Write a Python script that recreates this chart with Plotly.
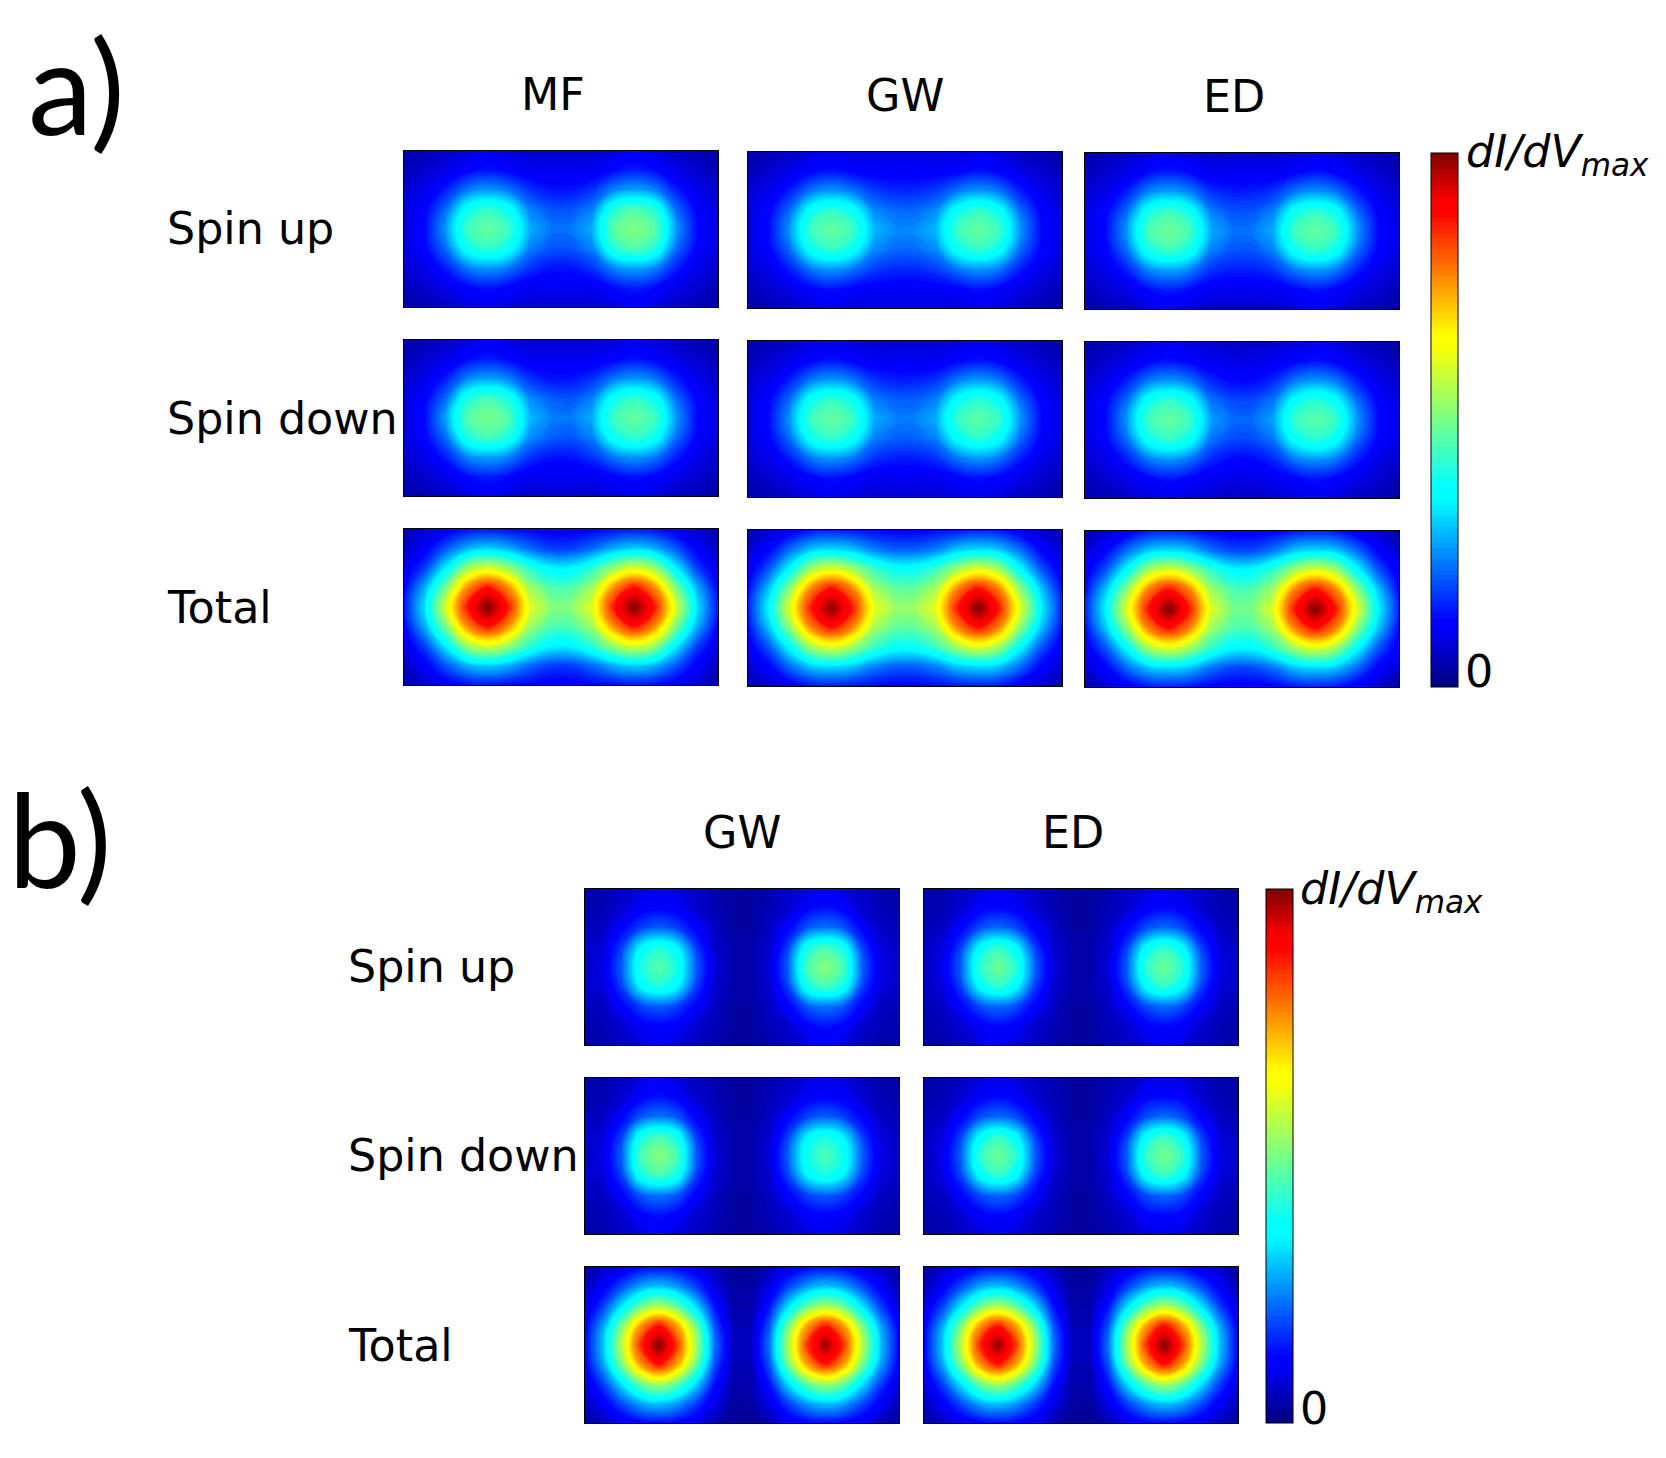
import plotly.graph_objects as go

# page has an 8px body margin, so the figure is a bit smaller than the window
OFFSET = 8
W = 1666 - 2 * OFFSET
H = 1458 - 2 * OFFSET

jet = [[0, '#00007f'], [0.11, '#0000ff'], [0.125, '#0000ff'], [0.35, '#00ffff'], [0.375, '#00ffff'],
       [0.64, '#ffff00'], [0.66, '#ffff00'], [0.89, '#ff0000'], [0.91, '#ff0000'], [1, '#7f0000']]

# dI/dV values, in percent of the maximum (top row first)
mf_up = [
    [4, 5, 6, 8, 9, 8, 7, 7, 7, 7, 8, 10, 8, 6, 5, 4],
    [5, 7, 9, 12, 14, 12, 10, 10, 10, 10, 13, 15, 13, 9, 7, 5],
    [7, 9, 15, 23, 26, 23, 17, 14, 14, 17, 24, 27, 24, 15, 9, 7],
    [8, 12, 22, 38, 43, 38, 24, 20, 20, 24, 41, 46, 41, 22, 12, 8],
    [8, 13, 26, 44, 48, 44, 28, 23, 23, 28, 47, 51, 47, 26, 13, 8],
    [8, 12, 22, 38, 43, 38, 24, 20, 20, 24, 41, 46, 41, 22, 12, 8],
    [7, 9, 15, 23, 26, 23, 17, 14, 14, 17, 24, 27, 24, 15, 9, 7],
    [5, 7, 9, 12, 14, 12, 10, 10, 10, 10, 13, 15, 13, 9, 7, 5],
    [4, 5, 6, 8, 9, 8, 7, 7, 7, 7, 8, 10, 8, 6, 5, 4],
]
mf_down = [
    [4, 5, 6, 8, 10, 8, 7, 7, 7, 7, 8, 9, 8, 6, 5, 4],
    [5, 7, 9, 13, 15, 13, 10, 10, 10, 10, 12, 14, 12, 9, 7, 5],
    [7, 9, 15, 24, 27, 24, 17, 14, 14, 17, 23, 26, 23, 15, 9, 7],
    [8, 12, 22, 40, 45, 40, 25, 21, 20, 24, 38, 43, 38, 22, 12, 8],
    [8, 13, 27, 46, 50, 46, 29, 24, 23, 28, 44, 48, 44, 26, 13, 8],
    [8, 12, 22, 40, 45, 40, 25, 21, 20, 24, 38, 43, 38, 22, 12, 8],
    [7, 9, 15, 24, 27, 24, 17, 14, 14, 17, 23, 26, 23, 15, 9, 7],
    [5, 7, 9, 13, 15, 13, 10, 10, 10, 10, 12, 14, 12, 9, 7, 5],
    [4, 5, 6, 8, 10, 8, 7, 7, 7, 7, 8, 9, 8, 6, 5, 4],
]
mf_total = [
    [4, 7, 10, 13, 14, 13, 12, 11, 11, 12, 13, 14, 13, 10, 7, 4],
    [6, 11, 20, 28, 31, 28, 22, 18, 18, 22, 28, 31, 28, 20, 11, 6],
    [9, 18, 34, 53, 60, 53, 42, 35, 35, 42, 53, 60, 53, 34, 18, 9],
    [12, 28, 50, 76, 88, 76, 54, 46, 46, 54, 76, 88, 76, 50, 28, 12],
    [14, 33, 60, 87, 100, 87, 61, 52, 52, 61, 87, 100, 87, 60, 33, 14],
    [12, 28, 50, 76, 88, 76, 54, 46, 46, 54, 76, 88, 76, 50, 28, 12],
    [9, 18, 34, 53, 60, 53, 42, 35, 35, 42, 53, 60, 53, 34, 18, 9],
    [6, 11, 20, 28, 31, 28, 22, 18, 18, 22, 28, 31, 28, 20, 11, 6],
    [4, 7, 10, 13, 14, 13, 12, 11, 11, 12, 13, 14, 13, 10, 7, 4],
]
gw_up_a = [
    [4, 5, 6, 8, 9, 8, 8, 8, 8, 8, 8, 9, 8, 6, 5, 4],
    [5, 7, 9, 12, 14, 12, 11, 11, 11, 11, 12, 14, 12, 9, 7, 5],
    [7, 9, 15, 23, 26, 23, 18, 16, 16, 18, 23, 26, 23, 15, 9, 7],
    [8, 12, 22, 38, 43, 38, 25, 22, 22, 25, 38, 43, 38, 22, 12, 8],
    [8, 13, 26, 44, 48, 44, 29, 25, 25, 29, 44, 48, 44, 26, 13, 8],
    [8, 12, 22, 38, 43, 38, 25, 22, 22, 25, 38, 43, 38, 22, 12, 8],
    [7, 9, 15, 23, 26, 23, 18, 16, 16, 18, 23, 26, 23, 15, 9, 7],
    [5, 7, 9, 12, 14, 12, 11, 11, 11, 11, 12, 14, 12, 9, 7, 5],
    [4, 5, 6, 8, 9, 8, 8, 8, 8, 8, 8, 9, 8, 6, 5, 4],
]
gw_down_a = [
    [4, 5, 6, 8, 9, 8, 7, 7, 7, 7, 8, 9, 8, 6, 5, 4],
    [5, 7, 9, 12, 14, 12, 10, 10, 10, 10, 12, 14, 12, 9, 7, 5],
    [7, 9, 15, 23, 26, 23, 17, 15, 15, 17, 23, 26, 23, 15, 9, 7],
    [8, 12, 22, 38, 43, 38, 24, 21, 21, 24, 37, 42, 37, 22, 12, 8],
    [8, 13, 26, 44, 48, 44, 28, 24, 24, 28, 43, 47, 43, 26, 13, 8],
    [8, 12, 22, 38, 43, 38, 24, 21, 21, 24, 37, 42, 37, 22, 12, 8],
    [7, 9, 15, 23, 26, 23, 17, 15, 15, 17, 23, 26, 23, 15, 9, 7],
    [5, 7, 9, 12, 14, 12, 10, 10, 10, 10, 12, 14, 12, 9, 7, 5],
    [4, 5, 6, 8, 9, 8, 7, 7, 7, 7, 8, 9, 8, 6, 5, 4],
]
gw_total_a = [
    [4, 7, 10, 14, 15, 14, 13, 12, 12, 13, 14, 15, 14, 10, 7, 4],
    [7, 12, 22, 30, 32, 30, 24, 21, 21, 24, 30, 32, 30, 22, 12, 7],
    [10, 20, 36, 54, 61, 54, 44, 38, 38, 44, 54, 61, 54, 36, 20, 10],
    [13, 30, 52, 77, 88, 77, 55, 48, 48, 55, 77, 88, 77, 52, 30, 13],
    [15, 35, 61, 87, 99, 87, 62, 54, 54, 62, 87, 100, 87, 61, 35, 15],
    [13, 30, 52, 77, 88, 77, 55, 48, 48, 55, 77, 88, 77, 52, 30, 13],
    [10, 20, 36, 54, 61, 54, 44, 38, 38, 44, 54, 61, 54, 36, 20, 10],
    [7, 12, 22, 30, 32, 30, 24, 21, 21, 24, 30, 32, 30, 22, 12, 7],
    [4, 7, 10, 14, 15, 14, 13, 12, 12, 13, 14, 15, 14, 10, 7, 4],
]
ed_up_a = [
    [4, 5, 6, 8, 9, 8, 7, 7, 7, 7, 8, 9, 8, 6, 5, 4],
    [5, 7, 9, 13, 15, 13, 10, 10, 10, 10, 12, 14, 12, 9, 7, 5],
    [7, 9, 15, 24, 27, 24, 17, 15, 15, 17, 23, 26, 23, 15, 9, 7],
    [8, 12, 22, 39, 44, 39, 24, 20, 20, 24, 38, 43, 38, 22, 12, 8],
    [8, 13, 26, 45, 49, 45, 28, 23, 23, 28, 44, 48, 44, 26, 13, 8],
    [8, 12, 22, 39, 44, 39, 24, 20, 20, 24, 38, 43, 38, 22, 12, 8],
    [7, 9, 15, 24, 27, 24, 17, 15, 15, 17, 23, 26, 23, 15, 9, 7],
    [5, 7, 9, 13, 15, 13, 10, 10, 10, 10, 12, 14, 12, 9, 7, 5],
    [4, 5, 6, 8, 9, 8, 7, 7, 7, 7, 8, 9, 8, 6, 5, 4],
]
ed_down_a = [
    [4, 5, 6, 8, 9, 8, 7, 6, 6, 7, 8, 9, 8, 6, 5, 4],
    [5, 7, 9, 12, 14, 12, 10, 9, 9, 10, 12, 14, 12, 9, 7, 5],
    [7, 9, 15, 23, 26, 23, 16, 13, 13, 16, 23, 26, 23, 15, 9, 7],
    [8, 12, 22, 38, 43, 38, 23, 19, 19, 23, 37, 42, 37, 22, 12, 8],
    [8, 13, 26, 44, 48, 44, 27, 22, 22, 27, 43, 47, 43, 26, 13, 8],
    [8, 12, 22, 38, 43, 38, 23, 19, 19, 23, 37, 42, 37, 22, 12, 8],
    [7, 9, 15, 23, 26, 23, 16, 13, 13, 16, 23, 26, 23, 15, 9, 7],
    [5, 7, 9, 12, 14, 12, 10, 9, 9, 10, 12, 14, 12, 9, 7, 5],
    [4, 5, 6, 8, 9, 8, 7, 6, 6, 7, 8, 9, 8, 6, 5, 4],
]
ed_total_a = [
    [4, 7, 10, 14, 15, 14, 12, 11, 11, 12, 14, 15, 14, 10, 7, 4],
    [7, 12, 22, 30, 32, 30, 23, 19, 19, 23, 30, 32, 30, 22, 12, 7],
    [10, 20, 36, 54, 61, 54, 43, 36, 36, 43, 54, 61, 54, 36, 20, 10],
    [13, 30, 52, 77, 88, 77, 54, 46, 46, 54, 77, 88, 77, 52, 30, 13],
    [15, 35, 61, 87, 100, 87, 61, 50, 50, 61, 87, 100, 87, 61, 35, 15],
    [13, 30, 52, 77, 88, 77, 54, 46, 46, 54, 77, 88, 77, 52, 30, 13],
    [10, 20, 36, 54, 61, 54, 43, 36, 36, 43, 54, 61, 54, 36, 20, 10],
    [7, 12, 22, 30, 32, 30, 23, 19, 19, 23, 30, 32, 30, 22, 12, 7],
    [4, 7, 10, 14, 15, 14, 12, 11, 11, 12, 14, 15, 14, 10, 7, 4],
]
gw_up_b = [
    [3, 4, 6, 8, 9, 8, 6, 4, 2, 2, 4, 6, 8, 10, 8, 6, 4, 3],
    [4, 5, 7, 11, 12, 11, 7, 5, 3, 3, 5, 7, 12, 14, 12, 7, 5, 4],
    [5, 6, 12, 18, 21, 18, 12, 6, 3, 3, 6, 12, 20, 23, 20, 12, 6, 5],
    [6, 8, 18, 35, 41, 35, 18, 7, 4, 4, 7, 18, 39, 45, 39, 18, 8, 6],
    [6, 9, 21, 40, 47, 40, 21, 8, 4, 4, 8, 21, 45, 52, 45, 21, 9, 6],
    [6, 8, 18, 35, 41, 35, 18, 7, 4, 4, 7, 18, 39, 45, 39, 18, 8, 6],
    [5, 6, 12, 18, 21, 18, 12, 6, 3, 3, 6, 12, 20, 23, 20, 12, 6, 5],
    [4, 5, 7, 11, 12, 11, 7, 5, 3, 3, 5, 7, 12, 14, 12, 7, 5, 4],
    [3, 4, 6, 8, 9, 8, 6, 4, 2, 2, 4, 6, 8, 10, 8, 6, 4, 3],
]
gw_down_b = [
    [3, 4, 6, 8, 10, 8, 6, 4, 2, 2, 4, 6, 8, 9, 8, 6, 4, 3],
    [4, 5, 7, 12, 14, 12, 7, 5, 3, 3, 5, 7, 11, 12, 11, 7, 5, 4],
    [5, 6, 12, 20, 23, 20, 12, 6, 3, 3, 6, 12, 18, 21, 18, 12, 6, 5],
    [6, 8, 18, 39, 45, 39, 18, 7, 4, 4, 7, 18, 34, 40, 34, 18, 8, 6],
    [6, 9, 21, 45, 52, 45, 21, 8, 4, 4, 8, 21, 39, 46, 39, 21, 9, 6],
    [6, 8, 18, 39, 45, 39, 18, 7, 4, 4, 7, 18, 34, 40, 34, 18, 8, 6],
    [5, 6, 12, 20, 23, 20, 12, 6, 3, 3, 6, 12, 18, 21, 18, 12, 6, 5],
    [4, 5, 7, 12, 14, 12, 7, 5, 3, 3, 5, 7, 11, 12, 11, 7, 5, 4],
    [3, 4, 6, 8, 10, 8, 6, 4, 2, 2, 4, 6, 8, 9, 8, 6, 4, 3],
]
gw_total_b = [
    [3, 6, 9, 12, 13, 12, 9, 5, 2, 2, 5, 9, 12, 13, 12, 9, 6, 3],
    [5, 11, 19, 27, 30, 26, 18, 9, 3, 3, 9, 18, 26, 30, 27, 19, 11, 5],
    [8, 18, 33, 48, 55, 47, 32, 14, 4, 4, 14, 32, 47, 54, 48, 33, 18, 8],
    [11, 27, 50, 75, 88, 74, 49, 20, 5, 5, 20, 49, 74, 87, 75, 50, 27, 11],
    [12, 30, 57, 85, 100, 84, 55, 23, 6, 6, 23, 55, 84, 98, 85, 57, 30, 12],
    [11, 27, 50, 75, 88, 74, 49, 20, 5, 5, 20, 49, 74, 87, 75, 50, 27, 11],
    [8, 18, 33, 48, 55, 47, 32, 14, 4, 4, 14, 32, 47, 54, 48, 33, 18, 8],
    [5, 11, 19, 27, 30, 26, 18, 9, 3, 3, 9, 18, 26, 30, 27, 19, 11, 5],
    [3, 6, 9, 12, 13, 12, 9, 5, 2, 2, 5, 9, 12, 13, 12, 9, 6, 3],
]
ed_up_b = [
    [3, 4, 6, 8, 9, 8, 6, 4, 2, 2, 4, 6, 8, 9, 8, 6, 4, 3],
    [4, 5, 7, 11, 13, 11, 7, 5, 3, 3, 5, 7, 11, 13, 11, 7, 5, 4],
    [5, 6, 12, 19, 22, 19, 12, 6, 3, 3, 6, 12, 19, 22, 19, 12, 6, 5],
    [6, 8, 18, 36, 43, 36, 18, 7, 4, 4, 7, 18, 36, 43, 36, 18, 8, 6],
    [6, 9, 21, 42, 49, 42, 21, 8, 4, 4, 8, 21, 42, 49, 42, 21, 9, 6],
    [6, 8, 18, 36, 43, 36, 18, 7, 4, 4, 7, 18, 36, 43, 36, 18, 8, 6],
    [5, 6, 12, 19, 22, 19, 12, 6, 3, 3, 6, 12, 19, 22, 19, 12, 6, 5],
    [4, 5, 7, 11, 13, 11, 7, 5, 3, 3, 5, 7, 11, 13, 11, 7, 5, 4],
    [3, 4, 6, 8, 9, 8, 6, 4, 2, 2, 4, 6, 8, 9, 8, 6, 4, 3],
]
ed_down_b = [
    [3, 4, 6, 8, 9, 8, 6, 4, 2, 2, 4, 6, 8, 9, 8, 6, 4, 3],
    [4, 5, 7, 11, 13, 11, 7, 5, 3, 3, 5, 7, 12, 13, 12, 7, 5, 4],
    [5, 6, 12, 19, 22, 19, 12, 6, 3, 3, 6, 12, 19, 22, 19, 12, 6, 5],
    [6, 8, 18, 36, 43, 36, 18, 7, 4, 4, 7, 18, 37, 44, 37, 18, 8, 6],
    [6, 9, 21, 42, 49, 42, 21, 8, 4, 4, 8, 21, 43, 50, 43, 21, 9, 6],
    [6, 8, 18, 36, 43, 36, 18, 7, 4, 4, 7, 18, 37, 44, 37, 18, 8, 6],
    [5, 6, 12, 19, 22, 19, 12, 6, 3, 3, 6, 12, 19, 22, 19, 12, 6, 5],
    [4, 5, 7, 11, 13, 11, 7, 5, 3, 3, 5, 7, 12, 13, 12, 7, 5, 4],
    [3, 4, 6, 8, 9, 8, 6, 4, 2, 2, 4, 6, 8, 9, 8, 6, 4, 3],
]
ed_total_b = [
    [3, 6, 9, 12, 13, 12, 9, 5, 2, 2, 5, 9, 12, 13, 12, 9, 6, 3],
    [5, 11, 19, 27, 30, 26, 18, 9, 3, 3, 9, 18, 26, 30, 27, 19, 11, 5],
    [8, 18, 33, 48, 55, 47, 32, 14, 4, 4, 14, 32, 47, 55, 48, 33, 18, 8],
    [11, 27, 50, 75, 87, 74, 49, 20, 5, 5, 20, 49, 74, 88, 75, 50, 27, 11],
    [12, 30, 57, 85, 99, 84, 55, 23, 6, 6, 23, 55, 84, 100, 85, 57, 30, 12],
    [11, 27, 50, 75, 87, 74, 49, 20, 5, 5, 20, 49, 74, 88, 75, 50, 27, 11],
    [8, 18, 33, 48, 55, 47, 32, 14, 4, 4, 14, 32, 47, 55, 48, 33, 18, 8],
    [5, 11, 19, 27, 30, 26, 18, 9, 3, 3, 9, 18, 26, 30, 27, 19, 11, 5],
    [3, 6, 9, 12, 13, 12, 9, 5, 2, 2, 5, 9, 12, 13, 12, 9, 6, 3],
]

row_labels = ['Spin up', 'Spin down', 'Total']
cb_title = '<i>dI/dV</i><sub><i>max</i></sub>'


def xfrac(px):
    return (px - OFFSET) / W


def yfrac(px):
    return 1 - (px - OFFSET) / H


# z, left, right, top, bottom (pixels in the photographed page)
panels = [
    (mf_up, 404, 718, 151, 307), (gw_up_a, 748, 1062, 152, 308), (ed_up_a, 1085, 1399, 153, 309),
    (mf_down, 404, 718, 340, 496), (gw_down_a, 748, 1062, 341, 497), (ed_down_a, 1085, 1399, 342, 498),
    (mf_total, 404, 718, 529, 685), (gw_total_a, 748, 1062, 530, 686), (ed_total_a, 1085, 1399, 531, 687),
    (gw_up_b, 585, 899, 889, 1045), (ed_up_b, 924, 1238, 889, 1045),
    (gw_down_b, 585, 899, 1078, 1234), (ed_down_b, 924, 1238, 1078, 1234),
    (gw_total_b, 585, 899, 1267, 1423), (ed_total_b, 924, 1238, 1267, 1423),
]

fig = go.Figure()
axes = {}
for i, (z, left, right, top, bottom) in enumerate(panels):
    n = '' if i == 0 else str(i + 1)
    # fine filled contours with smoothed lines look like the smooth image
    fig.add_trace(go.Contour(z=[[v / 100 for v in row] for row in z],
                             x=list(range(len(z[0]))), y=list(range(len(z))),
                             xaxis='x' + n, yaxis='y' + n, autocontour=False,
                             contours=dict(coloring='fill', start=0, end=1, size=0.01, showlines=False),
                             line=dict(width=0, smoothing=1.3),
                             colorscale=jet, zmin=0, zmax=1, showscale=False, hoverinfo='skip'))
    box = dict(showline=True, mirror=True, linecolor='black', linewidth=1,
               showgrid=False, zeroline=False, showticklabels=False, ticks='')
    axes['xaxis' + n] = dict(box, domain=[xfrac(left), xfrac(right)], range=[0, len(z[0]) - 1], anchor='y' + n)
    axes['yaxis' + n] = dict(box, domain=[yfrac(bottom), yfrac(top)], range=[len(z) - 1, 0], anchor='x' + n)

# the two colour bars hang on the last panel of each block
for idx, left, top, bottom in [(8, 1431, 153, 687), (14, 1266, 889, 1423)]:
    fig.data[idx].showscale = True
    fig.data[idx].colorbar = dict(x=xfrac(left), xanchor='left', xpad=0, ypad=0, thickness=27,
                                  y=yfrac(bottom), yanchor='bottom', len=(bottom - top) / H,
                                  outlinecolor='black', outlinewidth=1, tickvals=[], ticks='')


def label(text, x, y, size=44.4, anchor='left', family='DejaVu Sans'):
    return dict(text=text, x=xfrac(x), y=yfrac(y), xref='paper', yref='paper', showarrow=False,
                xanchor=anchor, yanchor='middle', font=dict(size=size, family=family, color='black'))


notes = [label('a)', 26, 85, 130, 'left', 'Lato'), label('b)', 6, 837, 130, 'left', 'Lato')]
for text, x, y in [('MF', 553, 95), ('GW', 905, 96), ('ED', 1234, 97), ('GW', 742, 832), ('ED', 1073, 832)]:
    notes.append(label(text, x, y, anchor='center'))
for text, y in zip(row_labels, [229, 418, 607]):
    notes.append(label(text, 165, y))
for text, y in zip(row_labels, [966, 1155, 1345]):
    notes.append(label(text, 346, y))
notes += [label(cb_title, 1464, 155), label('0', 1463, 671), label(cb_title, 1298, 892), label('0', 1298, 1408)]

fig.update_layout(width=W, height=H, margin=dict(l=0, r=0, t=0, b=0, autoexpand=False),
                  paper_bgcolor='white', plot_bgcolor='white', showlegend=False,
                  annotations=notes, **axes)
fig.write_html("out.html")
